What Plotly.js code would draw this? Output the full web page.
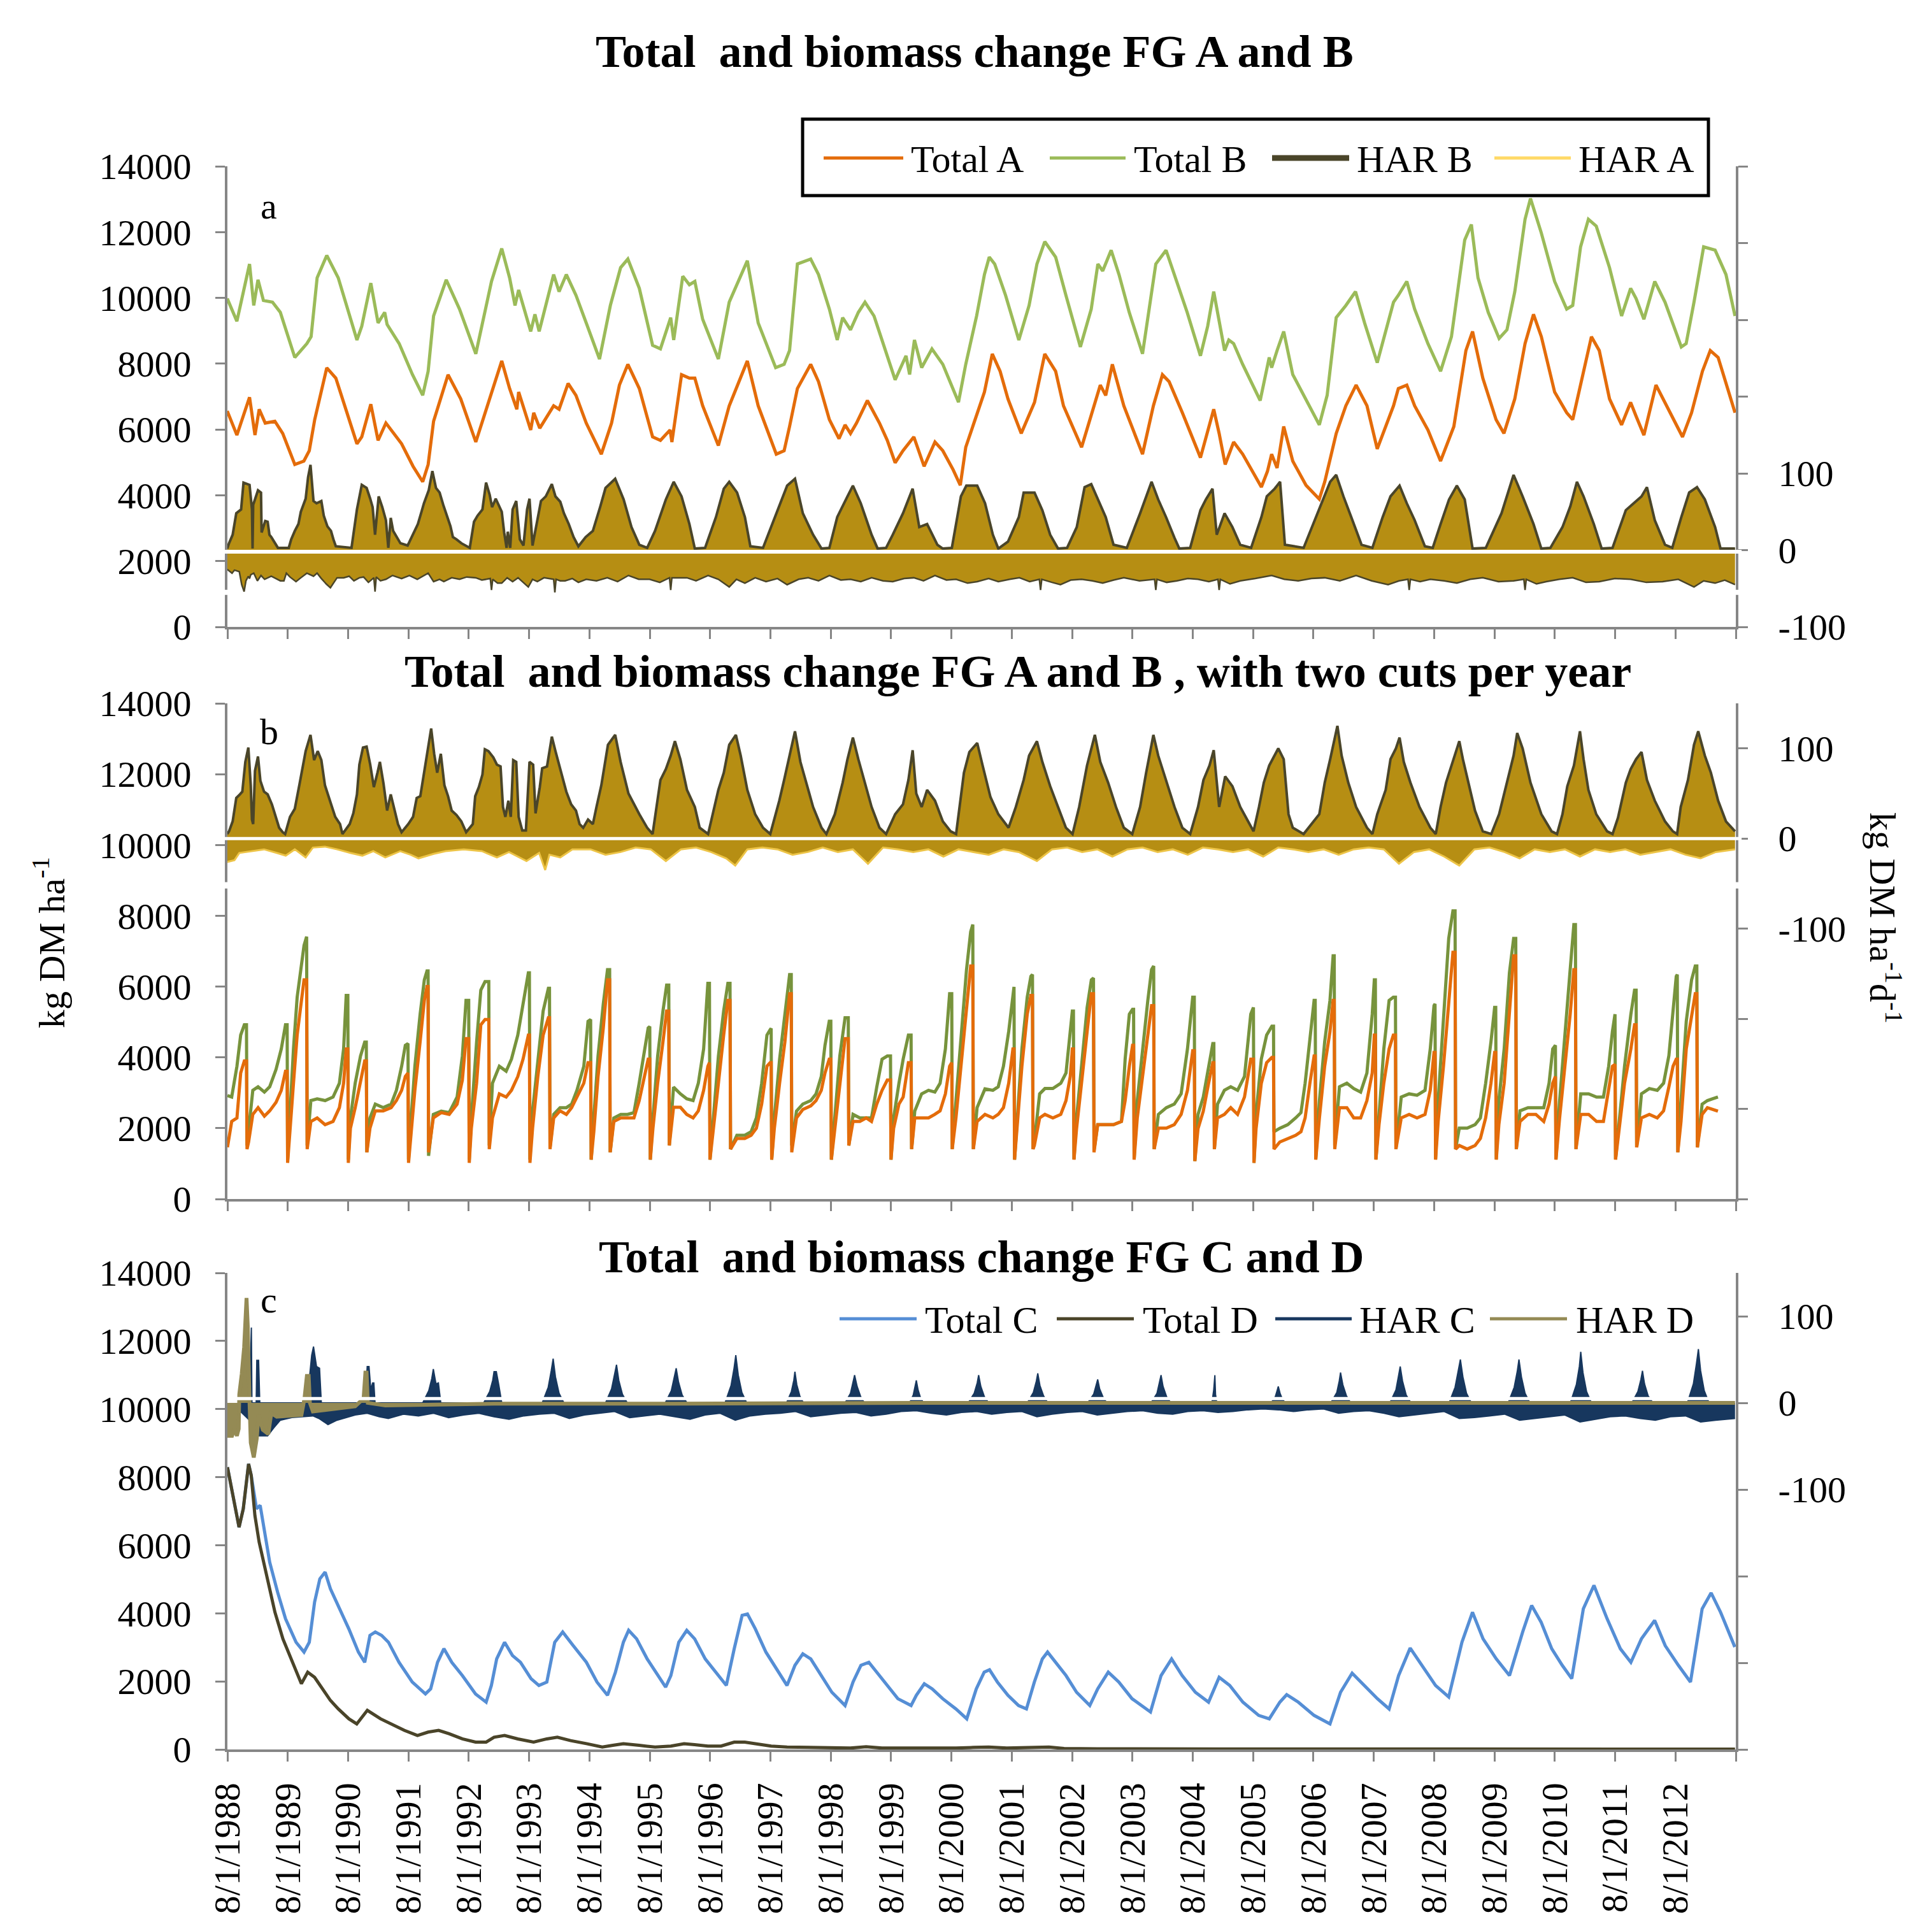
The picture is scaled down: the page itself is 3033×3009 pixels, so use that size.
<!DOCTYPE html>
<html><head><meta charset="utf-8">
<script src="https://cdn.plot.ly/plotly-3.0.1.min.js"></script>
<style>html,body{margin:0;padding:0;background:#fff}#chart{width:3033px;height:3009px}</style>
</head><body><div id="chart"></div>
<script>
// ---------- DATA (decimal year, value) flat pairs ----------
const tickLabels = ['8/1/1988','8/1/1989','8/1/1990','8/1/1991','8/1/1992','8/1/1993','8/1/1994','8/1/1995','8/1/1996','8/1/1997','8/1/1998','8/1/1999','8/1/2000','8/1/2001','8/1/2002','8/1/2003','8/1/2004','8/1/2005','8/1/2006','8/1/2007','8/1/2008','8/1/2009','8/1/2010','8/1/2011','8/1/2012'];
const tickYears = [1988,1989,1990,1991,1992,1993,1994,1995,1996,1997,1998,1999,2000,2001,2002,2003,2004,2005,2006,2007,2008,2009,2010,2011,2012];

// Panel a
const a_totalB = [1988.58,9980,1988.74,9290,1988.95,11030,1989.02,9770,1989.09,10550,1989.18,9920,1989.33,9870,1989.46,9560,1989.70,8190,1989.90,8610,1989.97,8820,1990.07,10610,1990.23,11290,1990.42,10610,1990.73,8720,1990.81,9140,1990.96,10450,1991.08,9240,1991.19,9560,1991.23,9190,1991.43,8610,1991.65,7670,1991.82,7040,1991.91,7770,1992.00,9450,1992.21,10550,1992.43,9660,1992.70,8300,1992.96,10500,1993.13,11500,1993.26,10610,1993.35,9770,1993.41,10240,1993.61,8980,1993.68,9500,1993.75,8980,1993.99,10710,1994.08,10190,1994.20,10710,1994.36,10080,1994.53,9240,1994.75,8140,1994.93,9770,1995.10,10920,1995.22,11180,1995.41,10290,1995.63,8560,1995.76,8450,1995.93,9400,1995.98,8720,1996.13,10660,1996.24,10400,1996.33,10500,1996.46,9350,1996.72,8140,1996.90,9870,1997.20,11130,1997.38,9240,1997.67,7880,1997.81,7980,1997.90,8400,1998.03,11030,1998.25,11180,1998.38,10710,1998.56,9660,1998.69,8720,1998.78,9400,1998.91,9030,1999.04,9560,1999.15,9870,1999.30,9450,1999.43,8720,1999.65,7510,1999.83,8240,1999.89,7670,1999.97,8720,2000.09,7880,2000.26,8450,2000.44,7980,2000.70,6830,2000.82,7980,2001.00,9450,2001.13,10710,2001.21,11240,2001.30,11030,2001.48,10080,2001.70,8720,2001.87,9770,2002.00,11030,2002.13,11710,2002.31,11240,2002.48,10080,2002.72,8510,2002.90,9660,2003.01,11030,2003.09,10820,2003.23,11450,2003.36,10710,2003.53,9560,2003.75,8300,2003.97,11030,2004.14,11450,2004.28,10710,2004.49,9560,2004.71,8240,2004.83,9140,2004.93,10190,2005.11,8400,2005.18,8720,2005.26,8610,2005.41,7980,2005.70,6880,2005.85,8190,2005.89,7880,2005.98,8400,2006.09,8980,2006.24,7670,2006.46,6930,2006.68,6140,2006.81,7040,2006.96,9400,2007.12,9770,2007.28,10190,2007.43,9240,2007.64,8030,2007.91,9870,2007.99,10080,2008.13,10500,2008.26,9660,2008.48,8610,2008.69,7770,2008.87,8820,2009.09,11760,2009.20,12230,2009.31,10610,2009.48,9560,2009.66,8770,2009.79,9030,2009.92,10190,2010.09,12390,2010.18,13020,2010.36,11970,2010.58,10500,2010.78,9660,2010.88,9770,2011.01,11550,2011.14,12390,2011.27,12180,2011.49,10920,2011.69,9450,2011.84,10290,2011.93,9980,2012.06,9350,2012.24,10500,2012.41,9870,2012.68,8510,2012.76,8610,2012.89,9870,2013.05,11550,2013.24,11450,2013.42,10710,2013.57,9450];
const a_totalA = [1988.58,6560,1988.74,5830,1988.95,6980,1989.04,5830,1989.11,6615,1989.21,6195,1989.37,6250,1989.50,5880,1989.70,4935,1989.85,5040,1989.94,5355,1990.03,6300,1990.23,7875,1990.38,7560,1990.73,5565,1990.81,5775,1990.96,6770,1991.08,5670,1991.21,6195,1991.34,5880,1991.47,5565,1991.66,4880,1991.82,4410,1991.91,4935,1992.00,6250,1992.24,7665,1992.45,6930,1992.70,5620,1992.96,7140,1993.13,8085,1993.26,7245,1993.38,6615,1993.41,7140,1993.61,5985,1993.66,6510,1993.76,6040,1993.99,6720,1994.08,6615,1994.23,7400,1994.36,7035,1994.53,6195,1994.78,5250,1994.95,6195,1995.08,7350,1995.22,7980,1995.41,7245,1995.63,5775,1995.76,5670,1995.92,5985,1995.95,5620,1996.11,7665,1996.24,7560,1996.33,7560,1996.46,6720,1996.72,5510,1996.90,6720,1997.20,8085,1997.38,6720,1997.68,5250,1997.81,5355,1997.90,6090,1998.03,7245,1998.25,7980,1998.38,7455,1998.56,6300,1998.72,5720,1998.82,6140,1998.91,5880,1999.01,6195,1999.19,6880,1999.39,6195,1999.52,5670,1999.65,4990,1999.78,5355,1999.96,5775,2000.13,4880,2000.31,5620,2000.44,5355,2000.61,4780,2000.73,4305,2000.82,5460,2000.95,6195,2001.13,7140,2001.26,8295,2001.39,7770,2001.52,6930,2001.74,5880,2001.96,6825,2002.13,8295,2002.31,7770,2002.44,6720,2002.74,5460,2002.94,6720,2003.05,7350,2003.14,7035,2003.25,7980,2003.44,6720,2003.75,5250,2003.93,6720,2004.08,7665,2004.19,7455,2004.41,6510,2004.71,5145,2004.93,6615,2005.02,5880,2005.12,4935,2005.26,5620,2005.41,5250,2005.72,4250,2005.82,4725,2005.89,5250,2005.98,4830,2006.09,6090,2006.24,5040,2006.46,4305,2006.68,3885,2006.77,4410,2006.96,5880,2007.12,6720,2007.29,7350,2007.47,6720,2007.64,5410,2007.91,6720,2007.99,7245,2008.13,7350,2008.26,6720,2008.48,5985,2008.69,5040,2008.91,6090,2009.11,8400,2009.22,8980,2009.39,7560,2009.61,6300,2009.74,5880,2009.92,6930,2010.09,8610,2010.23,9500,2010.36,8820,2010.58,7140,2010.78,6510,2010.88,6300,2011.06,7770,2011.19,8820,2011.32,8400,2011.49,6930,2011.69,6140,2011.84,6825,2011.93,6405,2012.06,5830,2012.26,7350,2012.41,6825,2012.70,5775,2012.85,6510,2013.03,7770,2013.16,8400,2013.29,8190,2013.57,6510];
const a_harPos = [1988.58,2,1988.61,9,1988.67,20,1988.73,48,1988.81,53,1988.85,88,1988.95,85,1988.99,53,1989.00,2,1989.01,59,1989.09,78,1989.14,75,1989.15,23,1989.21,38,1989.25,37,1989.28,20,1989.31,17,1989.38,9,1989.42,3,1989.60,3,1989.64,14,1989.70,25,1989.76,34,1989.80,50,1989.88,67,1989.92,95,1989.96,111,1990.01,64,1990.06,61,1990.14,64,1990.18,45,1990.24,31,1990.30,25,1990.34,14,1990.38,5,1990.64,3,1990.67,20,1990.73,53,1990.81,85,1990.89,81,1990.95,67,1990.99,56,1991.03,20,1991.09,70,1991.15,56,1991.21,39,1991.25,3,1991.29,42,1991.33,25,1991.39,17,1991.45,9,1991.57,6,1991.68,25,1991.74,34,1991.80,50,1991.84,61,1991.92,78,1991.98,103,1992.04,81,1992.10,75,1992.16,59,1992.22,45,1992.28,31,1992.32,17,1992.38,14,1992.46,9,1992.60,3,1992.67,37,1992.73,45,1992.81,53,1992.87,88,1992.93,72,1992.97,56,1993.03,67,1993.09,56,1993.13,50,1993.17,23,1993.21,3,1993.23,24,1993.27,3,1993.31,53,1993.37,64,1993.43,14,1993.49,6,1993.55,53,1993.59,67,1993.64,6,1993.72,39,1993.78,64,1993.86,70,1993.96,86,1994.02,70,1994.10,63,1994.16,48,1994.24,34,1994.32,17,1994.40,5,1994.52,17,1994.64,25,1994.76,56,1994.85,81,1995.01,93,1995.15,66,1995.28,30,1995.41,7,1995.54,3,1995.67,25,1995.85,66,1995.98,89,1996.11,70,1996.24,34,1996.33,2,1996.50,3,1996.68,43,1996.81,80,1996.90,89,1997.03,75,1997.16,43,1997.25,5,1997.46,3,1997.68,48,1997.86,84,1997.99,93,1998.12,48,1998.29,20,1998.43,2,1998.56,3,1998.69,43,1998.86,70,1998.95,84,1999.08,61,1999.26,20,1999.36,2,1999.50,3,1999.61,20,1999.78,48,1999.94,80,2000.05,30,2000.18,34,2000.35,7,2000.44,2,2000.59,3,2000.74,70,2000.83,84,2001.01,84,2001.14,61,2001.27,20,2001.36,2,2001.52,11,2001.70,43,2001.78,75,2001.96,75,2002.09,52,2002.22,20,2002.35,2,2002.50,3,2002.66,30,2002.79,82,2002.90,86,2003.01,66,2003.14,43,2003.27,7,2003.49,3,2003.71,48,2003.79,66,2003.90,89,2004.01,66,2004.14,43,2004.28,16,2004.36,2,2004.54,3,2004.71,52,2004.80,66,2004.91,80,2004.98,20,2005.11,48,2005.24,30,2005.37,7,2005.55,3,2005.72,43,2005.81,70,2005.94,80,2006.03,89,2006.11,7,2006.42,3,2006.77,70,2006.86,89,2006.96,98,2007.08,70,2007.21,43,2007.38,7,2007.56,3,2007.73,43,2007.86,70,2008.01,84,2008.13,61,2008.26,39,2008.43,5,2008.56,3,2008.69,34,2008.83,66,2008.96,84,2009.09,66,2009.22,2,2009.44,3,2009.70,48,2009.83,80,2009.90,98,2010.05,70,2010.23,34,2010.36,2,2010.51,3,2010.71,30,2010.84,57,2010.95,89,2011.06,70,2011.23,34,2011.36,2,2011.54,3,2011.76,52,2011.89,61,2012.02,70,2012.11,82,2012.24,39,2012.41,7,2012.53,3,2012.68,43,2012.81,75,2012.94,82,2013.07,66,2013.24,30,2013.33,2,2013.57,2];
const a_harNeg = [1988.58,-25,1988.66,-30,1988.70,-26,1988.78,-28,1988.82,-45,1988.86,-54,1988.89,-40,1988.93,-34,1988.95,-37,1988.97,-32,1989.02,-30,1989.08,-40,1989.14,-33,1989.20,-38,1989.31,-34,1989.38,-37,1989.46,-40,1989.52,-40,1989.56,-30,1989.62,-35,1989.72,-41,1989.80,-36,1989.90,-30,1990.01,-34,1990.07,-30,1990.14,-37,1990.22,-44,1990.29,-49,1990.34,-43,1990.40,-36,1990.51,-36,1990.60,-34,1990.68,-40,1990.77,-36,1990.84,-35,1990.92,-42,1991.01,-36,1991.03,-54,1991.05,-35,1991.12,-40,1991.21,-38,1991.32,-33,1991.47,-37,1991.60,-33,1991.73,-38,1991.80,-35,1991.91,-30,1992.00,-41,1992.10,-38,1992.17,-41,1992.30,-36,1992.43,-38,1992.55,-35,1992.70,-36,1992.80,-39,1992.94,-37,1992.96,-52,1992.98,-38,1993.06,-43,1993.13,-43,1993.22,-36,1993.31,-41,1993.40,-36,1993.50,-43,1993.57,-48,1993.64,-38,1993.72,-41,1993.83,-36,1993.99,-38,1994.01,-55,1994.03,-38,1994.10,-40,1994.18,-40,1994.30,-37,1994.40,-42,1994.53,-38,1994.70,-40,1994.88,-36,1995.05,-41,1995.23,-33,1995.40,-38,1995.58,-38,1995.75,-42,1995.91,-36,1995.93,-52,1995.95,-36,1996.20,-36,1996.35,-40,1996.55,-33,1996.72,-38,1996.90,-48,1997.02,-38,1997.16,-43,1997.33,-36,1997.51,-41,1997.70,-37,1997.86,-45,1998.05,-38,1998.21,-36,1998.38,-40,1998.56,-33,1998.75,-39,1998.91,-38,1999.08,-41,1999.26,-36,1999.45,-40,1999.61,-41,1999.80,-37,1999.96,-36,2000.12,-40,2000.31,-33,2000.50,-39,2000.66,-38,2000.85,-43,2001.01,-41,2001.20,-37,2001.36,-41,2001.55,-38,2001.71,-36,2001.88,-41,2002.04,-38,2002.06,-52,2002.08,-38,2002.25,-42,2002.39,-45,2002.56,-39,2002.74,-38,2002.92,-40,2003.09,-43,2003.27,-39,2003.44,-36,2003.70,-40,2003.95,-38,2003.97,-52,2003.99,-38,2004.15,-42,2004.32,-40,2004.50,-37,2004.67,-38,2004.85,-41,2005.00,-38,2005.02,-52,2005.04,-38,2005.20,-44,2005.37,-40,2005.62,-37,2005.89,-33,2006.10,-38,2006.33,-40,2006.55,-37,2006.77,-36,2007.02,-40,2007.29,-33,2007.55,-40,2007.82,-45,2008.00,-40,2008.15,-38,2008.17,-52,2008.19,-38,2008.35,-41,2008.52,-38,2008.75,-40,2008.96,-43,2009.18,-38,2009.39,-36,2009.65,-41,2009.90,-40,2010.07,-38,2010.09,-52,2010.11,-38,2010.28,-44,2010.44,-41,2010.66,-38,2010.88,-36,2011.10,-42,2011.32,-41,2011.58,-37,2011.84,-38,2012.10,-42,2012.37,-41,2012.63,-38,2012.89,-48,2013.05,-40,2013.24,-43,2013.40,-39,2013.57,-45];

// Panel b
const b_totalA = [1988.584,1460,1988.654,2190,1988.741,2290,1988.803,3560,1988.864,3900,1988.899,3900,1988.908,1410,1988.934,1610,1989.004,2390,1989.091,2580,1989.196,2340,1989.284,2490,1989.389,2730,1989.476,3070,1989.546,3610,1989.573,3610,1989.581,1020,1989.616,1900,1989.678,3270,1989.739,4630,1989.809,5610,1989.853,6190,1989.896,6190,1989.905,1410,1989.966,2190,1990.071,2290,1990.202,2100,1990.334,2190,1990.439,2580,1990.509,3270,1990.552,4240,1990.579,4240,1990.587,1020,1990.622,2000,1990.701,2580,1990.789,3270,1990.859,3900,1990.885,3900,1990.894,1320,1990.946,2000,1991.034,2490,1991.165,2490,1991.296,2580,1991.384,2780,1991.471,3070,1991.532,3460,1991.576,3560,1991.585,1020,1991.629,1900,1991.690,3070,1991.777,4440,1991.847,5610,1991.891,6000,1991.909,6000,1991.917,1320,1991.996,2290,1992.127,2440,1992.259,2390,1992.390,2680,1992.477,3360,1992.538,4530,1992.582,4530,1992.591,1020,1992.626,2000,1992.713,3270,1992.783,4920,1992.853,5070,1992.915,5070,1992.923,1410,1992.976,2290,1993.090,2970,1993.203,2880,1993.291,3070,1993.396,3460,1993.483,3950,1993.571,4630,1993.588,4630,1993.597,1020,1993.641,2000,1993.728,3460,1993.816,4630,1993.903,5120,1993.921,5120,1993.930,1410,1993.991,2290,1994.096,2490,1994.201,2390,1994.288,2580,1994.376,2880,1994.490,3270,1994.560,3850,1994.603,3850,1994.612,1110,1994.656,1900,1994.726,3460,1994.813,4830,1994.883,6190,1994.918,6190,1994.927,1320,1994.988,2190,1995.102,2290,1995.216,2290,1995.321,2290,1995.408,2780,1995.496,3460,1995.557,3950,1995.583,3950,1995.592,1110,1995.636,2000,1995.714,3270,1995.802,4440,1995.863,5310,1995.898,5310,1995.907,1510,1995.977,2590,1996.091,2590,1996.196,2390,1996.301,2290,1996.388,2490,1996.476,3070,1996.546,3750,1996.572,3850,1996.581,1110,1996.633,1990,1996.721,3270,1996.808,4630,1996.878,5610,1996.913,5610,1996.922,1410,1997.027,1710,1997.158,1710,1997.263,1800,1997.350,2000,1997.438,2680,1997.525,3750,1997.578,3850,1997.595,3850,1997.604,1110,1997.648,2000,1997.735,3270,1997.823,4440,1997.901,5800,1997.928,5800,1997.936,1320,1998.015,2290,1998.120,2530,1998.251,2630,1998.339,2780,1998.426,3070,1998.487,3560,1998.558,3950,1998.584,3950,1998.593,1110,1998.645,1900,1998.733,3270,1998.820,4530,1998.873,4530,1998.882,1510,1998.952,2190,1999.065,2190,1999.170,2290,1999.258,2190,1999.345,2680,1999.433,3070,1999.520,3360,1999.573,3360,1999.581,1110,1999.625,2000,1999.713,2680,1999.783,2880,1999.870,3850,1999.914,3850,1999.923,1410,1999.975,2290,2000.089,2290,2000.203,2290,2000.308,2390,2000.395,2490,2000.483,2970,2000.553,3750,2000.588,3850,2000.596,1410,2000.658,2290,2000.745,3750,2000.833,5220,2000.902,6580,2000.937,6580,2000.946,1410,2001.008,2190,2001.139,2390,2001.270,2290,2001.358,2390,2001.445,2580,2001.532,3270,2001.602,4240,2001.620,4240,2001.629,1110,2001.672,2100,2001.751,3750,2001.839,5220,2001.900,5750,2001.926,5750,2001.935,1410,2001.957,1510,2002.045,2290,2002.132,2390,2002.264,2290,2002.395,2390,2002.482,2780,2002.552,3460,2002.587,4240,2002.605,4240,2002.614,1110,2002.657,1990,2002.745,3270,2002.832,4730,2002.902,5800,2002.937,5800,2002.946,1320,2003.007,2100,2003.112,2100,2003.270,2100,2003.401,2190,2003.462,2780,2003.532,3750,2003.585,4340,2003.602,4340,2003.611,1110,2003.663,2290,2003.751,3460,2003.838,4730,2003.900,5460,2003.935,5460,2003.943,1410,2004.013,2000,2004.145,2000,2004.276,2100,2004.390,2390,2004.495,3070,2004.582,4190,2004.608,4190,2004.617,1070,2004.670,1990,2004.757,2480,2004.845,3270,2004.915,3850,2004.932,3850,2004.941,1410,2004.993,2290,2005.107,2390,2005.212,2580,2005.326,2390,2005.440,2880,2005.544,3950,2005.588,3950,2005.597,1020,2005.632,1990,2005.719,3270,2005.807,3850,2005.894,4000,2005.921,4000,2005.929,1410,2006.026,1610,2006.157,1710,2006.288,1800,2006.376,1900,2006.445,2290,2006.524,3270,2006.594,4040,2006.612,4040,2006.621,1110,2006.682,2290,2006.769,3750,2006.857,4730,2006.909,5610,2006.927,5610,2006.936,1410,2007.014,2580,2007.137,2580,2007.251,2290,2007.365,2290,2007.469,2780,2007.557,3560,2007.592,4630,2007.609,4630,2007.618,1110,2007.670,2100,2007.749,3270,2007.837,4240,2007.907,4630,2007.942,4630,2007.950,1410,2008.038,2290,2008.169,2390,2008.300,2290,2008.432,2390,2008.519,3070,2008.581,4140,2008.598,4140,2008.607,1110,2008.650,2190,2008.738,3750,2008.825,5410,2008.895,6970,2008.930,6970,2008.939,1410,2009.000,1510,2009.131,1410,2009.262,1510,2009.350,1710,2009.437,2290,2009.525,3270,2009.586,4140,2009.604,4140,2009.613,1110,2009.656,2100,2009.744,3270,2009.831,5220,2009.901,6870,2009.936,6870,2009.945,1410,2010.006,2190,2010.138,2390,2010.269,2390,2010.400,2190,2010.488,2680,2010.549,3270,2010.593,3460,2010.602,1110,2010.663,2290,2010.750,3750,2010.838,5220,2010.899,6480,2010.925,6480,2010.934,1410,2011.013,2390,2011.144,2390,2011.275,2190,2011.389,2190,2011.476,3070,2011.538,3750,2011.581,3800,2011.590,1110,2011.651,1990,2011.739,3270,2011.844,4240,2011.905,4920,2011.931,4920,2011.940,1460,2012.019,2290,2012.150,2390,2012.281,2290,2012.386,2490,2012.474,3170,2012.543,3750,2012.596,3950,2012.613,3950,2012.622,1320,2012.675,2190,2012.762,4240,2012.850,5220,2012.911,5800,2012.937,5800,2012.946,1460,2013.025,2390,2013.112,2580,2013.200,2530,2013.287,2480];
const b_totalB = [1988.584,2920,1988.654,2880,1988.741,3750,1988.803,4630,1988.864,4920,1988.899,4920,1988.908,1510,1988.934,2000,1989.004,3070,1989.091,3170,1989.196,3020,1989.284,3170,1989.389,3660,1989.476,4240,1989.546,4920,1989.573,4920,1989.581,1110,1989.616,2290,1989.678,4240,1989.739,5700,1989.809,6580,1989.853,7160,1989.896,7410,1989.905,1510,1989.966,2780,1990.071,2830,1990.202,2780,1990.334,2880,1990.439,3270,1990.509,4240,1990.552,5750,1990.579,5750,1990.587,1110,1990.622,2290,1990.701,3270,1990.789,4040,1990.859,4430,1990.885,4430,1990.894,1320,1990.946,2290,1991.034,2680,1991.165,2580,1991.296,2680,1991.384,3070,1991.471,3750,1991.532,4340,1991.576,4390,1991.585,1110,1991.629,2290,1991.690,3750,1991.777,5220,1991.847,6190,1991.891,6440,1991.909,6440,1991.917,1220,1991.996,2390,1992.127,2480,1992.259,2440,1992.390,2880,1992.477,4040,1992.538,5610,1992.582,5610,1992.591,1110,1992.626,2290,1992.713,4430,1992.783,5900,1992.853,6140,1992.915,6140,1992.923,1510,1992.976,3270,1993.090,3750,1993.203,3610,1993.291,3950,1993.396,4630,1993.483,5510,1993.571,6390,1993.588,6390,1993.597,1110,1993.641,2480,1993.728,3950,1993.816,5310,1993.903,5950,1993.921,5950,1993.930,1460,1993.991,2390,1994.096,2580,1994.201,2580,1994.288,2680,1994.376,3070,1994.490,3750,1994.560,5020,1994.603,5070,1994.612,1110,1994.656,2290,1994.726,4040,1994.813,5510,1994.883,6480,1994.918,6480,1994.927,1320,1994.988,2290,1995.102,2390,1995.216,2390,1995.321,2440,1995.408,3270,1995.496,4240,1995.557,4830,1995.583,4870,1995.592,1110,1995.636,2290,1995.714,4040,1995.802,5310,1995.863,6040,1995.898,6040,1995.907,1510,1995.977,3160,1996.091,2970,1996.196,2830,1996.301,2780,1996.388,3270,1996.476,4240,1996.546,6090,1996.572,6090,1996.581,1110,1996.633,2290,1996.721,4040,1996.808,5310,1996.878,6090,1996.913,6090,1996.922,1410,1997.027,1800,1997.158,1800,1997.263,1900,1997.350,2290,1997.438,3270,1997.525,4630,1997.578,4780,1997.595,4820,1997.604,1110,1997.648,2290,1997.735,3950,1997.823,5220,1997.901,6340,1997.928,6340,1997.936,1510,1998.015,2480,1998.120,2680,1998.251,2780,1998.339,2970,1998.426,3460,1998.487,4340,1998.558,5020,1998.584,5020,1998.593,1110,1998.645,2290,1998.733,4040,1998.820,5120,1998.873,5120,1998.882,1510,1998.952,2390,1999.065,2290,1999.170,2290,1999.258,2290,1999.345,3160,1999.433,3950,1999.520,4040,1999.573,4040,1999.581,1110,1999.625,2290,1999.713,3270,1999.783,3950,1999.870,4630,1999.914,4630,1999.923,1410,1999.975,2480,2000.089,2970,2000.203,3070,2000.308,3020,2000.395,3270,2000.483,4240,2000.553,5800,2000.588,5800,2000.596,1410,2000.658,2770,2000.745,4730,2000.833,6480,2000.902,7550,2000.937,7750,2000.946,1410,2001.008,2580,2001.139,3110,2001.270,3070,2001.358,3170,2001.445,3750,2001.532,4730,2001.602,5700,2001.620,5990,2001.629,1110,2001.672,2290,2001.751,4240,2001.839,5700,2001.900,6290,2001.926,6340,2001.935,1410,2001.957,1610,2002.045,2970,2002.132,3120,2002.264,3120,2002.395,3270,2002.482,3560,2002.552,4730,2002.587,5310,2002.605,5310,2002.614,1120,2002.657,2290,2002.745,3950,2002.832,5410,2002.902,6190,2002.937,6240,2002.946,1370,2003.007,2100,2003.112,2100,2003.270,2100,2003.401,2190,2003.462,3950,2003.532,5220,2003.585,5360,2003.602,5360,2003.611,1120,2003.663,2780,2003.751,4240,2003.838,5610,2003.900,6480,2003.935,6580,2003.943,1410,2004.013,2390,2004.145,2580,2004.276,2680,2004.390,2970,2004.495,4240,2004.582,5700,2004.608,5700,2004.617,1070,2004.670,2390,2004.757,2880,2004.845,3750,2004.915,4390,2004.932,4390,2004.941,1410,2004.993,2680,2005.107,3070,2005.212,3170,2005.326,3070,2005.440,3460,2005.544,5220,2005.588,5410,2005.597,1020,2005.632,2390,2005.719,3950,2005.807,4630,2005.894,4880,2005.921,4880,2005.929,1900,2006.026,2000,2006.157,2100,2006.288,2290,2006.376,2440,2006.445,3270,2006.524,4630,2006.594,5610,2006.612,5610,2006.621,1120,2006.682,2780,2006.769,4440,2006.857,5610,2006.909,6870,2006.927,6870,2006.936,1510,2007.014,3170,2007.137,3270,2007.251,3120,2007.365,3020,2007.469,3560,2007.557,5220,2007.592,6190,2007.609,6190,2007.618,1120,2007.670,2390,2007.749,4240,2007.837,5610,2007.907,5700,2007.942,5700,2007.950,1410,2008.038,2880,2008.169,2970,2008.300,2930,2008.432,3070,2008.519,4240,2008.581,5460,2008.598,5510,2008.607,1120,2008.650,2780,2008.738,5220,2008.825,7360,2008.895,8140,2008.930,8140,2008.939,1410,2009.000,2000,2009.131,2000,2009.262,2100,2009.350,2290,2009.437,3270,2009.525,4440,2009.586,5410,2009.604,5410,2009.613,1120,2009.656,2780,2009.744,4240,2009.831,6390,2009.901,7360,2009.936,7360,2009.945,1410,2010.006,2490,2010.138,2580,2010.269,2580,2010.400,2580,2010.488,3270,2010.549,4240,2010.593,4340,2010.602,1120,2010.663,2780,2010.750,4730,2010.838,6480,2010.899,7750,2010.925,7750,2010.934,1410,2011.013,2970,2011.144,2970,2011.275,2880,2011.389,2880,2011.476,3750,2011.538,4730,2011.581,5220,2011.590,1120,2011.651,2290,2011.739,3750,2011.844,5220,2011.905,5900,2011.931,5900,2011.940,1460,2012.019,2970,2012.150,3120,2012.281,3070,2012.386,3270,2012.474,4050,2012.543,5220,2012.596,6290,2012.613,6340,2012.622,1320,2012.675,2780,2012.762,5020,2012.850,6190,2012.911,6580,2012.937,6580,2012.946,1460,2013.025,2680,2013.112,2780,2013.200,2830,2013.287,2880];
const b_harPos = [1988.58,5,1988.61,8,1988.67,19,1988.73,45,1988.79,49,1988.83,52,1988.88,85,1988.93,101,1988.97,59,1988.99,21,1989.01,16,1989.04,75,1989.09,91,1989.13,64,1989.19,52,1989.25,49,1989.32,38,1989.38,24,1989.44,12,1989.50,7,1989.54,5,1989.62,24,1989.70,33,1989.78,61,1989.88,97,1989.96,115,1990.02,87,1990.08,97,1990.14,87,1990.20,59,1990.28,42,1990.37,24,1990.45,16,1990.49,5,1990.61,16,1990.67,28,1990.73,49,1990.77,82,1990.83,101,1990.89,102,1990.95,82,1991.01,57,1991.07,73,1991.11,85,1991.17,61,1991.23,31,1991.29,49,1991.35,33,1991.41,16,1991.47,7,1991.58,16,1991.66,24,1991.72,45,1991.78,47,1991.84,73,1991.90,99,1991.96,122,1992.01,94,1992.06,73,1992.12,94,1992.18,59,1992.24,47,1992.30,31,1992.38,26,1992.46,19,1992.54,7,1992.65,16,1992.69,47,1992.75,57,1992.81,71,1992.85,99,1992.91,97,1992.99,90,1993.05,82,1993.11,80,1993.15,35,1993.19,24,1993.24,42,1993.28,24,1993.32,87,1993.37,85,1993.41,24,1993.47,9,1993.53,9,1993.59,85,1993.65,82,1993.69,28,1993.76,57,1993.80,78,1993.88,80,1993.96,113,1994.02,97,1994.08,82,1994.14,66,1994.20,52,1994.28,38,1994.36,31,1994.42,16,1994.48,12,1994.56,21,1994.64,16,1994.70,35,1994.78,59,1994.89,104,1995.01,115,1995.10,85,1995.23,50,1995.41,27,1995.54,12,1995.63,5,1995.76,65,1995.85,77,1995.93,92,1996.00,108,1996.09,88,1996.20,54,1996.33,35,1996.41,12,1996.55,5,1996.72,54,1996.81,73,1996.90,104,1997.01,115,1997.09,92,1997.20,54,1997.33,27,1997.46,12,1997.58,5,1997.73,42,1997.81,65,1997.90,92,1997.99,119,1998.08,85,1998.19,58,1998.29,35,1998.43,12,1998.51,5,1998.65,27,1998.78,62,1998.86,88,1998.95,112,1999.04,88,1999.15,62,1999.26,35,1999.39,12,1999.50,5,1999.65,27,1999.78,38,1999.87,65,1999.94,98,2000.00,50,2000.09,35,2000.18,54,2000.31,42,2000.44,19,2000.57,8,2000.66,5,2000.79,73,2000.88,96,2001.01,106,2001.10,81,2001.23,46,2001.36,27,2001.53,12,2001.65,35,2001.78,65,2001.87,92,2002.00,108,2002.09,85,2002.22,58,2002.35,35,2002.48,12,2002.59,5,2002.70,35,2002.83,81,2002.90,100,2002.96,115,2003.05,85,2003.18,62,2003.31,35,2003.44,12,2003.58,5,2003.71,35,2003.81,73,2003.93,115,2004.01,92,2004.14,65,2004.28,35,2004.41,12,2004.54,5,2004.67,35,2004.76,65,2004.86,81,2004.93,98,2005.02,35,2005.12,69,2005.24,58,2005.37,35,2005.50,19,2005.59,8,2005.68,35,2005.76,62,2005.85,81,2005.94,92,2006.00,100,2006.09,88,2006.17,27,2006.24,12,2006.42,5,2006.68,27,2006.77,62,2006.86,88,2006.93,108,2006.98,125,2007.05,92,2007.16,62,2007.29,35,2007.47,12,2007.56,5,2007.64,27,2007.78,54,2007.86,88,2007.95,100,2008.01,112,2008.08,85,2008.19,62,2008.34,35,2008.52,12,2008.61,5,2008.69,35,2008.78,62,2008.91,88,2009.00,108,2009.06,88,2009.15,62,2009.26,31,2009.39,8,2009.53,5,2009.66,27,2009.79,62,2009.90,92,2009.96,117,2010.05,100,2010.18,62,2010.36,27,2010.53,8,2010.62,5,2010.71,27,2010.79,58,2010.90,81,2011.00,119,2011.06,88,2011.14,54,2011.27,27,2011.45,8,2011.54,5,2011.63,23,2011.76,62,2011.84,77,2011.93,88,2012.02,96,2012.11,65,2012.24,42,2012.41,19,2012.54,8,2012.61,5,2012.67,35,2012.79,65,2012.89,104,2012.96,119,2013.07,92,2013.17,73,2013.29,42,2013.42,19,2013.57,8];
const b_harNeg = [1988.58,-26,1988.70,-24,1988.78,-16,1988.99,-14,1989.19,-12,1989.40,-16,1989.55,-19,1989.70,-12,1989.88,-21,1990.00,-10,1990.20,-9,1990.40,-12,1990.62,-16,1990.82,-19,1991.00,-14,1991.20,-21,1991.45,-14,1991.62,-18,1991.75,-22,1992.00,-17,1992.20,-14,1992.50,-12,1992.80,-14,1993.05,-21,1993.25,-15,1993.54,-25,1993.75,-16,1993.85,-35,1993.92,-18,1994.10,-21,1994.30,-12,1994.60,-12,1994.85,-18,1995.10,-15,1995.35,-10,1995.60,-12,1995.85,-25,1996.10,-12,1996.35,-10,1996.60,-15,1996.85,-22,1997.00,-30,1997.20,-12,1997.45,-10,1997.70,-12,1997.95,-18,1998.20,-15,1998.45,-10,1998.70,-15,1998.95,-12,1999.20,-28,1999.45,-10,1999.70,-12,1999.95,-15,2000.20,-12,2000.45,-20,2000.70,-12,2000.95,-15,2001.20,-18,2001.45,-12,2001.70,-15,2002.00,-25,2002.25,-12,2002.50,-10,2002.75,-15,2003.00,-12,2003.25,-20,2003.50,-12,2003.75,-10,2004.00,-15,2004.25,-12,2004.50,-18,2004.75,-10,2005.00,-12,2005.25,-15,2005.50,-12,2005.75,-20,2006.00,-10,2006.25,-12,2006.50,-15,2006.75,-12,2007.00,-18,2007.25,-12,2007.50,-10,2007.75,-12,2008.00,-28,2008.25,-15,2008.50,-12,2008.75,-20,2009.00,-30,2009.25,-12,2009.50,-10,2009.75,-15,2010.00,-22,2010.25,-12,2010.50,-15,2010.75,-12,2011.00,-20,2011.25,-12,2011.50,-15,2011.75,-12,2012.00,-18,2012.25,-15,2012.50,-12,2012.75,-18,2013.00,-22,2013.25,-15,2013.57,-12];

// Panel c
const c_totalC = [1988.584,8290,1988.671,7460,1988.776,6530,1988.846,7070,1988.934,8390,1988.978,8050,1989.065,7070,1989.126,7170,1989.196,6480,1989.284,5500,1989.415,4620,1989.546,3840,1989.721,3150,1989.853,2860,1989.940,3150,1990.028,4330,1990.115,5010,1990.203,5210,1990.290,4720,1990.421,4230,1990.596,3540,1990.754,2860,1990.859,2560,1990.946,3350,1991.034,3450,1991.139,3350,1991.252,3150,1991.427,2560,1991.646,1980,1991.865,1630,1991.952,1780,1992.066,2560,1992.171,2960,1992.302,2560,1992.477,2170,1992.696,1630,1992.871,1390,1992.958,1880,1993.046,2660,1993.177,3150,1993.308,2760,1993.440,2560,1993.615,2080,1993.746,1880,1993.877,1980,1994.008,3150,1994.140,3450,1994.314,3050,1994.533,2560,1994.708,1980,1994.883,1590,1995.014,2270,1995.146,3150,1995.233,3500,1995.365,3250,1995.540,2660,1995.714,2170,1995.846,1830,1995.933,2170,1996.064,3150,1996.196,3500,1996.327,3250,1996.502,2660,1996.677,2270,1996.852,1880,1996.983,2960,1997.114,3940,1997.202,3980,1997.333,3540,1997.508,2860,1997.683,2370,1997.858,1880,1997.989,2470,1998.120,2810,1998.251,2660,1998.426,2170,1998.601,1680,1998.820,1290,1998.952,1980,1999.083,2470,1999.214,2560,1999.345,2270,1999.520,1880,1999.695,1490,1999.914,1290,2000.001,1590,2000.133,1930,2000.264,1780,2000.439,1490,2000.658,1190,2000.837,900,2000.995,1780,2001.126,2270,2001.214,2340,2001.345,1980,2001.520,1590,2001.695,1290,2001.826,1190,2001.957,1980,2002.089,2660,2002.176,2860,2002.307,2560,2002.482,2170,2002.657,1680,2002.876,1290,2003.007,1780,2003.182,2270,2003.357,1980,2003.576,1490,2003.882,1100,2004.057,2170,2004.232,2660,2004.407,2170,2004.626,1680,2004.844,1390,2005.020,2120,2005.125,1980,2005.195,1880,2005.413,1390,2005.676,1000,2005.851,900,2006.026,1390,2006.139,1610,2006.332,1390,2006.594,1000,2006.857,750,2007.032,1680,2007.224,2240,2007.425,1880,2007.644,1490,2007.837,1190,2007.994,2170,2008.186,2980,2008.388,2470,2008.607,1880,2008.825,1540,2009.044,3150,2009.219,4030,2009.394,3250,2009.613,2660,2009.832,2170,2010.050,3450,2010.199,4230,2010.356,3740,2010.532,2960,2010.707,2470,2010.864,2080,2011.056,4130,2011.232,4820,2011.450,3840,2011.669,2960,2011.844,2560,2012.019,3250,2012.238,3790,2012.413,3050,2012.632,2470,2012.832,1980,2013.025,4130,2013.174,4600,2013.331,4030,2013.567,3010];
const c_totalD = [1988.584,8290,1988.671,7460,1988.776,6530,1988.846,7070,1988.908,8050,1988.934,8390,1988.978,8050,1989.039,6870,1989.109,6090,1989.240,5010,1989.371,4030,1989.503,3250,1989.678,2470,1989.809,1930,1989.914,2270,1990.028,2120,1990.159,1780,1990.290,1440,1990.421,1190,1990.596,900,1990.727,750,1990.902,1150,1991.121,900,1991.296,750,1991.515,560,1991.733,410,1991.909,510,1992.084,560,1992.259,460,1992.477,310,1992.696,215,1992.871,215,1993.002,360,1993.177,410,1993.396,310,1993.658,215,1993.877,310,1994.052,360,1994.271,260,1994.533,170,1994.796,70,1994.971,120,1995.146,170,1995.408,120,1995.671,70,1995.933,100,1996.152,170,1996.327,140,1996.546,100,1996.764,100,1996.983,215,1997.158,215,1997.333,170,1997.596,100,1997.858,70,1998.120,60,1998.383,50,1998.645,40,1998.908,40,1999.170,80,1999.433,40,1999.783,40,2000.220,30,2000.658,40,2000.950,60,2001.200,70,2001.500,40,2001.950,60,2002.200,70,2002.450,30,2003.000,20,2005.000,15,2008.000,10,2013.570,10];
const c_harCpos = [1988.95,0,1988.97,60,1988.98,87,1988.99,0,1989.06,0,1989.07,49,1989.10,49,1989.12,0,1989.86,0,1989.93,20,1989.98,55,1990.01,65,1990.04,50,1990.06,42,1990.11,40,1990.14,0,1990.82,0,1990.88,18,1990.90,42,1990.93,42,1990.96,15,1990.99,23,1991.01,23,1991.03,0,1991.82,0,1991.92,14,1991.97,28,1991.996,39,1992.04,22,1992.08,23,1992.12,0,1992.83,0,1992.93,13,1992.98,26,1993.002,36,1993.04,36,1993.08,21,1993.13,0,1993.80,0,1993.90,18,1993.95,37,1993.982,51,1994.02,30,1994.08,11,1994.16,0,1994.85,0,1994.95,16,1995.00,32,1995.032,44,1995.07,26,1995.13,10,1995.21,0,1995.84,0,1995.94,14,1995.99,29,1996.021,40,1996.06,24,1996.12,9,1996.20,0,1996.83,0,1996.93,20,1996.98,40,1997.009,55,1997.05,32,1997.11,12,1997.19,0,1997.85,0,1997.93,13,1997.97,26,1997.989,36,1998.02,21,1998.07,8,1998.13,0,1998.82,0,1998.91,11,1998.95,23,1998.978,32,1999.02,19,1999.08,7,1999.14,0,1999.89,0,1999.95,9,1999.98,19,2000.001,26,2000.03,15,2000.07,6,2000.12,0,2000.86,0,2000.96,11,2001.01,23,2001.034,32,2001.07,19,2001.13,7,2001.20,0,2001.84,0,2001.94,12,2001.99,25,2002.014,34,2002.05,20,2002.11,8,2002.18,0,2002.84,0,2002.94,10,2002.98,20,2003.007,27,2003.04,16,2003.10,6,2003.16,0,2003.89,0,2003.99,11,2004.03,23,2004.057,32,2004.09,19,2004.15,7,2004.22,0,2004.90,0,2004.93,15,2004.949,32,2004.96,10,2004.98,0,2005.88,0,2005.95,7,2005.98,14,2006.000,19,2006.03,11,2006.07,4,2006.12,0,2006.87,0,2006.97,12,2007.01,25,2007.032,35,2007.07,21,2007.13,8,2007.20,0,2007.85,0,2007.95,15,2007.99,30,2008.021,42,2008.06,25,2008.12,9,2008.20,0,2008.83,0,2008.93,18,2008.98,36,2009.018,50,2009.06,30,2009.12,11,2009.20,0,2009.81,0,2009.91,18,2009.96,36,2009.989,50,2010.03,30,2010.09,11,2010.17,0,2010.84,0,2010.94,21,2010.99,42,2011.013,59,2011.05,35,2011.11,13,2011.19,0,2011.86,0,2011.96,13,2012.01,27,2012.036,37,2012.07,22,2012.13,8,2012.21,0,2012.78,0,2012.88,22,2012.93,45,2012.963,62,2013.00,37,2013.06,14,2013.14,0];
const c_harCneg = [1988.58,-5,1988.80,-10,1988.95,-20,1988.98,-42,1989.00,-45,1989.05,-25,1989.10,-38,1989.25,-38,1989.35,-29,1989.46,-20,1989.65,-17,1989.81,-16,1990.00,-15,1990.10,-18,1990.25,-25,1990.40,-20,1990.70,-14,1990.90,-12,1991.10,-16,1991.25,-18,1991.50,-13,1991.75,-15,1992.00,-12,1992.25,-17,1992.50,-14,1992.75,-12,1993.00,-16,1993.25,-19,1993.50,-15,1993.75,-13,1994.00,-12,1994.25,-18,1994.50,-14,1994.75,-12,1995.00,-10,1995.25,-17,1995.50,-15,1995.75,-13,1996.00,-16,1996.25,-19,1996.50,-14,1996.75,-12,1997.00,-20,1997.25,-15,1997.50,-13,1997.75,-12,1998.00,-10,1998.25,-16,1998.50,-14,1998.75,-12,1999.00,-11,1999.25,-15,1999.50,-13,1999.75,-10,2000.00,-9,2000.25,-12,2000.50,-14,2000.75,-11,2001.00,-10,2001.25,-13,2001.50,-11,2001.75,-10,2002.00,-16,2002.25,-13,2002.50,-11,2002.75,-10,2003.00,-14,2003.25,-12,2003.50,-10,2003.75,-9,2004.00,-12,2004.25,-13,2004.50,-10,2004.75,-9,2005.00,-11,2005.25,-10,2005.50,-8,2005.75,-7,2006.00,-8,2006.25,-10,2006.50,-8,2006.75,-7,2007.00,-12,2007.25,-10,2007.50,-9,2007.75,-12,2008.00,-16,2008.25,-14,2008.50,-12,2008.75,-10,2009.00,-18,2009.25,-17,2009.50,-15,2009.75,-13,2010.00,-20,2010.25,-18,2010.50,-16,2010.75,-14,2011.00,-22,2011.25,-19,2011.50,-16,2011.75,-15,2012.00,-18,2012.25,-20,2012.50,-16,2012.75,-15,2013.00,-22,2013.25,-20,2013.57,-18];
const c_harD = [1988.58,-38,1988.66,-38,1988.70,-30,1988.74,-38,1988.77,-30,1988.78,10,1988.82,33,1988.86,64,1988.90,121,1988.92,89,1988.95,0,1988.97,-46,1989.02,-63,1989.07,-41,1989.10,-14,1989.17,-31,1989.26,-36,1989.31,-12,1989.40,-16,1989.60,-15,1989.81,-14,1989.86,5,1989.90,31,1989.93,31,1989.95,0,1990.00,-10,1990.20,-8,1990.50,-6,1990.70,-4,1990.84,5,1990.87,35,1990.89,35,1990.91,0,1991.20,-3,1992.00,-2,1993.00,-1,1996.00,-1,2000.00,0,2013.57,0];

// ---------- STYLE ----------
const F = 'Liberation Serif, Times New Roman, serif';
const C = {orange:'#E46C0A', green:'#9BBB59', greenB:'#77933C', dark:'#4A4529', gold:'#B68E13', yellow:'#FFD966', blue:'#558ED5', brown:'#4A4429', navy:'#17375E', khaki:'#948A54', axis:'#868686'};
const W = 3033, H = 3009;
const px = v => v / W, py = v => 1 - v / H;
const dom = [px(357), px(2725)];

function P(a){const x=[],y=[];for(let i=0;i<a.length;i+=2){x.push(a[i]);y.push(a[i+1]);}return {x,y};}
function ln(arr,color,w,xa,ya){const p=P(arr);return {type:'scatter',mode:'lines',x:p.x,y:p.y,xaxis:xa,yaxis:ya,line:{color,width:w},showlegend:false,hoverinfo:'skip'};}
function ar(arr,fill,lc,lw,xa,ya){const p=P(arr);return {type:'scatter',mode:'lines',x:p.x,y:p.y,xaxis:xa,yaxis:ya,fill:'tozeroy',fillcolor:fill,line:{color:lc,width:lw},showlegend:false,hoverinfo:'skip'};}

const traces = [
  ar(a_harNeg, C.gold, C.dark, 2.5, 'x3','y5'),
  ar(a_harPos, C.gold, C.dark, 4, 'x3','y5'),
  ln(a_totalA, C.orange, 5, 'x3','y6'),
  ln(a_totalB, C.green, 5, 'x3','y6'),
  ar(b_harNeg, C.gold, '#EDC447', 3, 'x2','y3'),
  ar(b_harPos, C.gold, C.dark, 4, 'x2','y3'),
  ln(b_totalB, C.greenB, 5, 'x2','y4'),
  ln(b_totalA, C.orange, 5, 'x2','y4'),
  ar(c_harCneg, C.navy, C.navy, 2, 'x','y'),
  ar(c_harCpos, C.navy, C.navy, 2, 'x','y'),
  ar(c_harD, C.khaki, C.khaki, 6, 'x','y'),
  ln(c_totalC, C.blue, 5, 'x','y2'),
  ln(c_totalD, C.brown, 5, 'x','y2')
];

const tickvals = tickYears.map(y => y + 0.583);
const base = {showgrid:false, zeroline:false, showline:true, linecolor:C.axis, linewidth:4, ticks:'outside', ticklen:15, tickwidth:3, tickcolor:C.axis, tickfont:{family:F,size:58,color:'#000'}};
const minorX = {ticks:'outside', ticklen:15, tickwidth:3, tickcolor:C.axis, tick0:1988.583, dtick:1, showgrid:false};
const xBase = Object.assign({}, base, {domain:dom, range:[1988.583,2013.583], tickmode:'array', tickvals, ticktext:tickLabels, minor:minorX});
const leftY = Object.assign({}, base, {side:'left', range:[0,14000], tickmode:'array', tickvals:[0,2000,4000,6000,8000,10000,12000,14000], ticktext:['0','2000','4000','6000','8000','10000','12000','14000'], ticklabelstandoff:26});
const minorR = {ticks:'outside', ticklen:15, tickwidth:3, tickcolor:C.axis, tick0:0, dtick:100, showgrid:false};
const rightBase = Object.assign({}, base, {side:'right', tickmode:'array', tickvals:[-100,0,100], ticktext:['-100','0','100'], ticklabelstandoff:36, minor:minorR});

const domA = [py(984), py(261)], domB = [py(1882), py(1104)], domC = [py(2746), py(1998)];

const layout = {
  width:W, height:H, margin:{l:0,r:0,t:0,b:0}, paper_bgcolor:'#fff', plot_bgcolor:'rgba(0,0,0,0)', showlegend:false,
  xaxis: Object.assign({}, xBase, {anchor:'y', tickangle:-90, ticklabelstandoff:10}),
  xaxis2: Object.assign({}, xBase, {anchor:'y3', showticklabels:false}),
  xaxis3: Object.assign({}, xBase, {anchor:'y5', showticklabels:false}),
  yaxis: Object.assign({}, rightBase, {domain:domC, anchor:'x', range:[-400,150]}),
  yaxis2: Object.assign({}, leftY, {overlaying:'y', anchor:'x'}),
  yaxis3: Object.assign({}, rightBase, {domain:domB, anchor:'x2', range:[-400,150]}),
  yaxis4: Object.assign({}, leftY, {overlaying:'y3', anchor:'x2'}),
  yaxis5: Object.assign({}, rightBase, {domain:domA, anchor:'x3', range:[-100,500]}),
  yaxis6: Object.assign({}, leftY, {overlaying:'y5', anchor:'x3'}),
  shapes: [], annotations: []
};

// white zero lines on HAR axes, and small axis breaks
layout.shapes.push({type:'line', xref:'paper', yref:'y5', x0:dom[0]-0.003, x1:dom[1]+0.003, y0:-2, y1:-2, line:{color:'#fff', width:6}, layer:'above'});
layout.shapes.push({type:'line', xref:'paper', yref:'y3', x0:dom[0]-0.003, x1:dom[1]+0.003, y0:0, y1:0, line:{color:'#fff', width:5}, layer:'above'});
layout.shapes.push({type:'line', xref:'paper', yref:'y', x0:dom[0], x1:dom[1], y0:5, y1:5, line:{color:'#fff', width:5}, layer:'above'});
[[dom[0]-0.004, dom[0]+0.002],[dom[1]-0.002, dom[1]+0.004]].forEach(([a,b])=>{
  layout.shapes.push({type:'line', xref:'paper', yref:'y4', x0:a, x1:b, y0:8860, y1:8860, line:{color:'#fff', width:10}, layer:'above'});
  layout.shapes.push({type:'line', xref:'paper', yref:'y6', x0:a, x1:b, y0:1050, y1:1050, line:{color:'#fff', width:8}, layer:'above'});
});

// legends drawn as shapes + text
layout.shapes.push({type:'rect', xref:'paper', yref:'paper', x0:px(1260), x1:px(2682), y0:py(307), y1:py(187), line:{color:'#000', width:5}, fillcolor:'#fff', layer:'above'});
const legA = [{name:'Total A', color:C.orange, w:5, x0:1293, x1:1418, tx:1428},
              {name:'Total B', color:C.green, w:5, x0:1648, x1:1767, tx:1778},
              {name:'HAR B', color:C.dark, w:9, x0:1997, x1:2118, tx:2128},
              {name:'HAR A', color:C.yellow, w:5, x0:2346, x1:2466, tx:2476}];
const legC = [{name:'Total C', color:C.blue, w:5, x0:1318, x1:1439, tx:1450},
              {name:'Total D', color:C.brown, w:5, x0:1659, x1:1780, tx:1792},
              {name:'HAR C', color:C.navy, w:5, x0:2002, x1:2122, tx:2132},
              {name:'HAR D', color:C.khaki, w:5, x0:2339, x1:2460, tx:2472}];
[[legA,248],[legC,2070]].forEach(([items,yy])=>{
  items.forEach(it=>{
    layout.shapes.push({type:'line', xref:'paper', yref:'paper', x0:px(it.x0), x1:px(it.x1), y0:py(yy), y1:py(yy), line:{color:it.color, width:it.w}, layer:'above'});
    layout.annotations.push({xref:'paper', yref:'paper', x:px(it.tx), y:py(yy+2), xanchor:'left', yanchor:'middle', text:it.name, showarrow:false, font:{family:F, size:60, color:'#000'}});
  });
});

// titles and labels
const titles = [['Total  and biomass change FG A and B', 1530, 81],
                ['Total  and biomass change FG A and B , with two cuts per year', 1598, 1054],
                ['Total  and biomass change FG C and D', 1541, 1973]];
titles.forEach(([t,x,y])=>layout.annotations.push({xref:'paper', yref:'paper', x:px(x), y:py(y), xanchor:'center', yanchor:'middle', text:'<b>'+t+'</b>', showarrow:false, font:{family:F, size:72, color:'#000'}}));
[['a',323],['b',1149],['c',2040]].forEach(([t,y])=>layout.annotations.push({xref:'paper', yref:'paper', x:px(422), y:py(y), xanchor:'center', yanchor:'middle', text:t, showarrow:false, font:{family:F, size:58, color:'#000'}}));
layout.annotations.push({xref:'paper', yref:'paper', x:px(77), y:py(1480), xanchor:'center', yanchor:'middle', textangle:-90, text:'kg DM ha<sup>-1</sup>', showarrow:false, font:{family:F, size:58, color:'#000'}});
layout.annotations.push({xref:'paper', yref:'paper', x:px(2959), y:py(1441), xanchor:'center', yanchor:'middle', textangle:90, text:'kg DM ha<sup>-1</sup>d<sup>-1</sup>', showarrow:false, font:{family:F, size:58, color:'#000'}});

Plotly.newPlot('chart', traces, layout, {staticPlot:true, displayModeBar:false});
</script></body></html>
